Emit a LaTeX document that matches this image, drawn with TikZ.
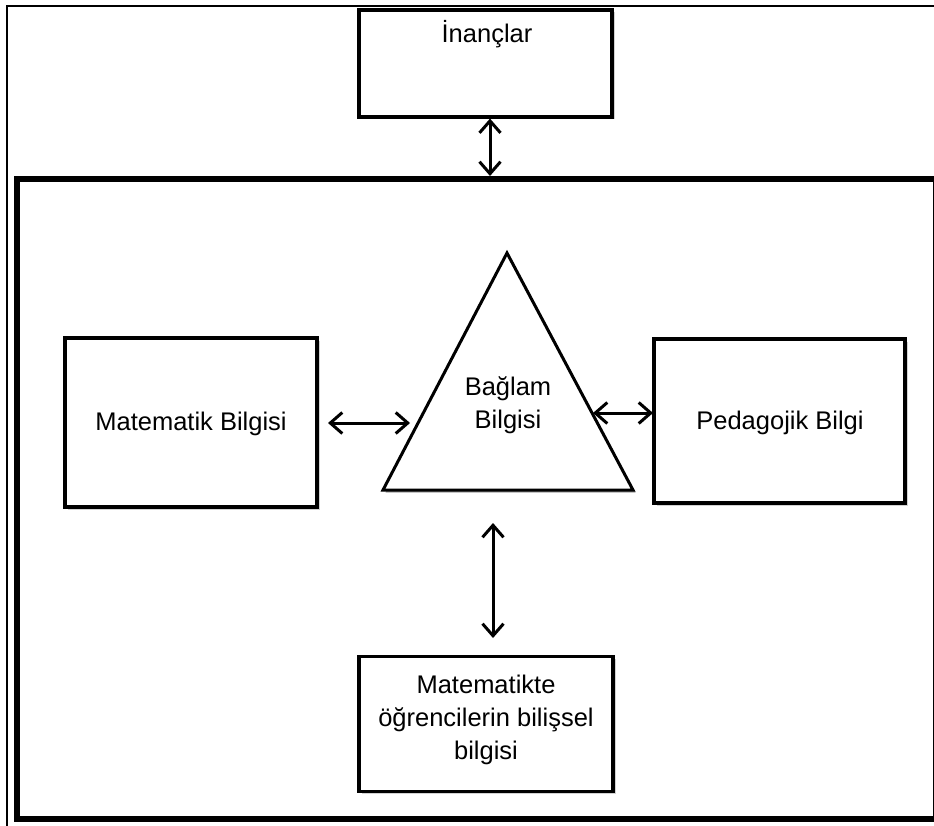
\documentclass[tikz,border=0pt]{standalone}
\usepackage{fontspec}
\setmainfont{Liberation Sans}
\usetikzlibrary{arrows.meta,shadows}
\begin{document}
\begin{tikzpicture}[x=1pt,y=-1pt,
  box/.style={draw, line width=3.2pt, fill=white, inner sep=0pt,
    drop shadow={shadow xshift=2.5pt, shadow yshift=-2.5pt, fill=black!35}},
  lbl/.style={font=\fontsize{25.5}{33}\selectfont, align=center, inner sep=0pt},
  biarrow/.style={line width=3pt,
    {Straight Barb[length=12pt,width=21pt]}-{Straight Barb[length=12pt,width=21pt]}}]

\useasboundingbox (0,0) rectangle (934,826);
\clip (0,0) rectangle (934,826);

% outer thin frame and thick inner frame
\draw[line width=1.8pt] (7,6) rectangle (950,840);
\draw[line width=6pt] (17,179) rectangle (935.8,819);

% boxes
\node[box, minimum width=253pt, minimum height=107pt] (inanc) at (485.5,63.5) {};
\node[lbl, anchor=base] (inanctxt) at (487,43) {İnançlar};

\node[box, minimum width=252pt, minimum height=169pt] (mat) at (191,422.5) {};
\node[lbl, anchor=base] (mattxt) at (191,430) {Matematik Bilgisi};

\node[box, minimum width=251pt, minimum height=164pt] (ped) at (779.5,421) {};
\node[lbl, anchor=base] (pedtxt) at (780,429) {Pedagojik Bilgi};

\node[box, minimum width=254pt, minimum height=135pt] (ogr) at (486,724) {};
\node[lbl] (ogrtxt) at (486,719.5) {Matematikte\\öğrencilerin bilişsel\\bilgisi};

% context triangle
\coordinate (apex) at (507,253);
\coordinate (bl) at (383,490);
\coordinate (br) at (633,490);
\fill[black!35] ([xshift=2.5pt,yshift=-2.5pt]apex) -- ([xshift=2.5pt,yshift=-2.5pt]bl) -- ([xshift=2.5pt,yshift=-2.5pt]br) -- cycle;
\draw[line width=3pt, fill=white, line join=miter] (apex) -- (bl) -- (br) -- cycle;
\node[lbl, anchor=base] (bag1) at (508,395) {Bağlam};
\node[lbl, anchor=base] (bag2) at (508,428) {Bilgisi};

% connector end points
\coordinate (ftop) at (490,176);
\coordinate (tri-l) at (410,423);
\coordinate (mat-r) at (328,423);
\coordinate (tri-r) at (593,413);
\coordinate (ped-l) at (653,413);
\coordinate (tri-b) at (493,523);
\coordinate (ogr-t) at (493,638);

% connectors
\draw[biarrow] ([xshift=4.5pt]inanc.south) -- (ftop);
\draw[biarrow] (mat-r) -- (tri-l);
\draw[biarrow] (tri-r) -- (ped-l);
\draw[biarrow] (tri-b) -- (ogr-t);
\end{tikzpicture}
\end{document}
